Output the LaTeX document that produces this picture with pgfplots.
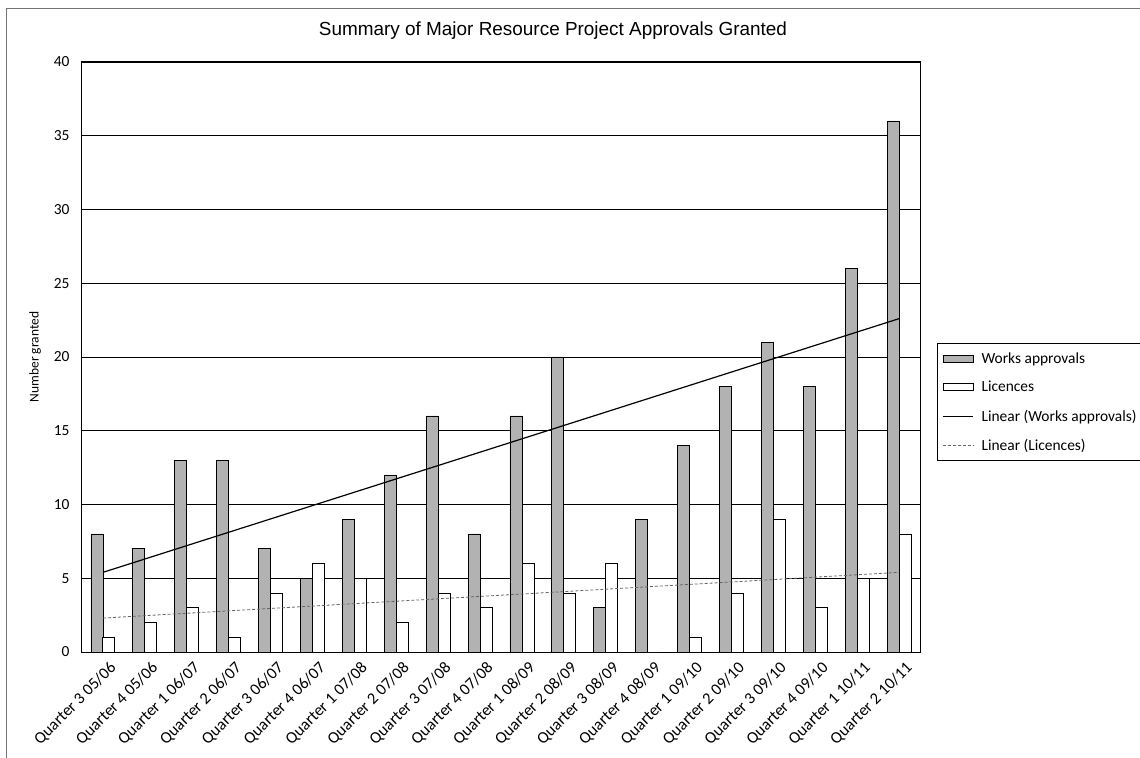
\documentclass[border=0pt]{standalone}
\usepackage{fontspec}
\setmainfont{Carlito}
\newfontfamily\arialfont{Liberation Sans}
\usepackage{pgfplots}
\pgfplotsset{compat=1.18}
\pgfplotsset{
  barlegend/.style={legend image code/.code={\draw[##1] (0bp,-3.5bp) rectangle (30bp,3.5bp); \path (36bp,0bp);}},
  linelegend/.style={legend image code/.code={\draw[##1] (0bp,0bp) -- (30bp,0bp); \path (36bp,0bp);}},
}
\begin{document}
\begin{tikzpicture}[x=1bp,y=1bp]
\begin{axis}[
  at={(0,0)}, anchor=south west,
  scale only axis, width=838bp, height=590bp,
  xmin=0.5, xmax=20.5, ymin=0, ymax=40,
  xtick={1,...,20},
  xticklabels={Quarter 3 05/06,Quarter 4 05/06,Quarter 1 06/07,Quarter 2 06/07,Quarter 3 06/07,Quarter 4 06/07,Quarter 1 07/08,Quarter 2 07/08,Quarter 3 07/08,Quarter 4 07/08,Quarter 1 08/09,Quarter 2 08/09,Quarter 3 08/09,Quarter 4 08/09,Quarter 1 09/10,Quarter 2 09/10,Quarter 3 09/10,Quarter 4 09/10,Quarter 1 10/11,Quarter 2 10/11},
  xticklabel style={rotate=45, anchor=north east, font=\fontsize{16.5}{18}\selectfont, inner sep=0bp, xshift=-2bp, yshift=-10bp},
  ytick={0,5,...,40},
  yticklabel style={font=\fontsize{15.5}{17}\selectfont, xshift=-9bp},
  /pgf/number format/assume math mode=true,
  ymajorgrids, grid style={black, line width=0.9bp},
  major tick length=0pt,
  axis line style={black, line width=1bp},
  legend style={at={(1.0203,0.5237)}, anchor=north west, draw=black, line width=0.8bp,
    font=\fontsize{15.5}{18}\selectfont, row sep=12.5bp, inner xsep=5bp, inner ysep=7bp},
  legend cell align=left,
]
\addplot[fill=black!30, draw=black, line width=0.8bp, ybar, bar width=12bp, bar shift=-6bp, barlegend]
  coordinates {(1,8) (2,7) (3,13) (4,13) (5,7) (6,5) (7,9) (8,12) (9,16) (10,8) (11,16) (12,20) (13,3) (14,9) (15,14) (16,18) (17,21) (18,18) (19,26) (20,36)};
\addlegendentry{Works approvals}
\addplot[fill=white, draw=black, line width=0.9bp, ybar, bar width=12bp, bar shift=6bp, barlegend]
  coordinates {(1,1) (2,2) (3,3) (4,1) (5,4) (6,6) (7,5) (8,2) (9,4) (10,3) (11,6) (12,4) (13,6) (14,0) (15,1) (16,4) (17,9) (18,3) (19,5) (20,8)};
\addlegendentry{Licences}
\addplot[black, line width=1.2bp, mark=none, sharp plot, linelegend]
  coordinates {(1,5.4) (20,22.6)};
\addlegendentry{Linear (Works approvals)}
\addplot[black!60, line width=0.8bp, densely dashed, mark=none, sharp plot, linelegend]
  coordinates {(1,2.3) (20,5.4)};
\addlegendentry{Linear (Licences)}
\end{axis}
\node[font=\arialfont\fontsize{19}{21}\selectfont] at (471bp,621bp) {Summary of Major Resource Project Approvals Granted};
\node[rotate=90, font=\fontsize{13.5}{15}\selectfont] at (-47bp,295bp) {Number granted};
\draw[black!55, line width=0.8bp] (-76bp,-200bp) -- (-76bp,644bp) -- (1100bp,644bp);
\pgfresetboundingbox
\useasboundingbox (-82bp,-106bp) rectangle (1058bp,652bp);
\end{tikzpicture}
\end{document}
